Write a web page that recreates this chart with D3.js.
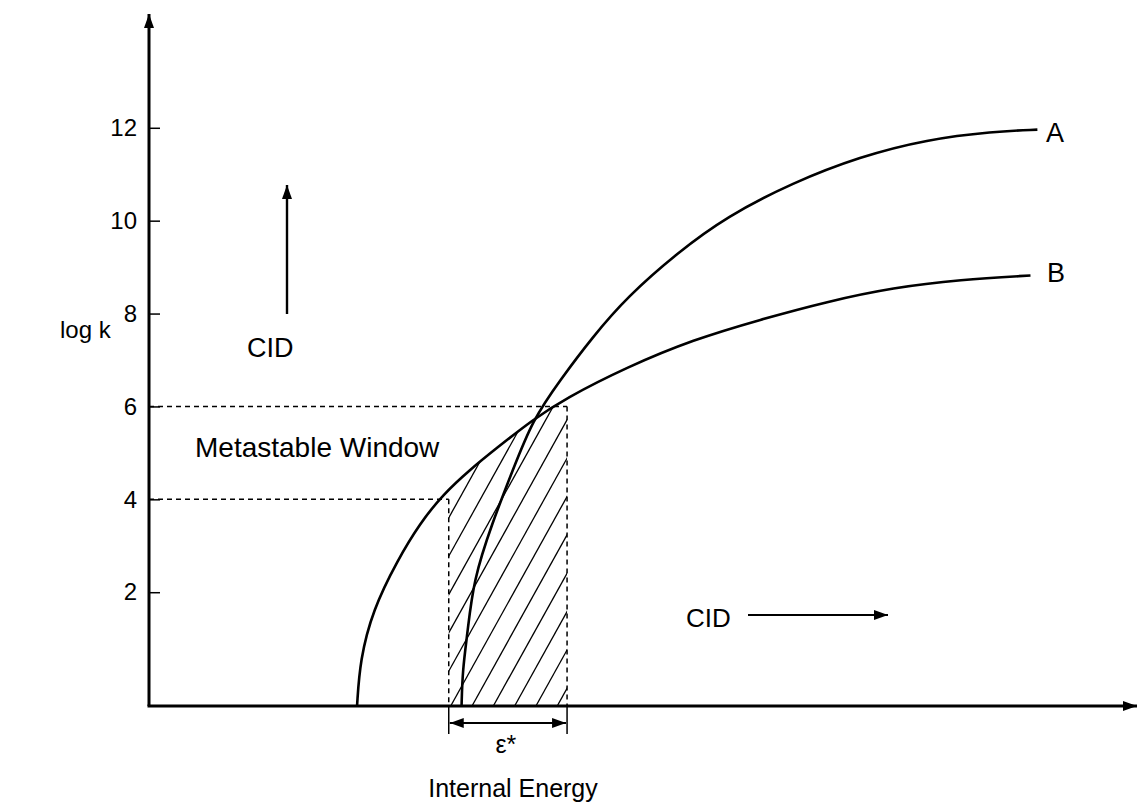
<!DOCTYPE html>
<html>
<head>
<meta charset="utf-8">
<script src="https://cdn.jsdelivr.net/npm/d3@7"></script>
<style>
  body { margin: 0; background: #fff; }
  svg { display: block; font-family: "Liberation Sans", Arial, sans-serif; }
</style>
</head>
<body>
<div id="chart"></div>
<script>
// curve data: [internal energy, log k]
const curveA = [
  [3.17, -0.45], [3.18, 0.32], [3.23, 1.12], [3.29, 2.26], [3.48, 3.49],
  [3.69, 4.63], [3.89, 5.71], [4.17, 6.57], [4.50, 7.50], [4.85, 8.36],
  [5.36, 9.31], [5.86, 10.09], [6.53, 10.82], [7.21, 11.38], [7.89, 11.75],
  [8.56, 11.92], [9.01, 11.96]
];
const curveB = [
  [2.11, -0.45], [2.14, 0.54], [2.27, 1.62], [2.52, 2.69], [2.75, 3.49],
  [2.98, 4.10], [3.25, 4.63], [3.53, 5.11], [3.89, 5.71], [4.22, 6.17],
  [4.85, 6.85], [5.52, 7.44], [6.20, 7.87], [6.88, 8.26], [7.55, 8.56],
  [8.23, 8.73], [8.94, 8.82]
];
const yTicks = [2, 4, 6, 8, 10, 12];
const windowLevels = [4, 6];      // log k bounds of the metastable window
const windowEnergy = [3.04, 4.24]; // energy bounds (epsilon*)
const baseLevel = -0.45;           // where the energy axis sits

const w = 1138, h = 805;

const x = d3.scaleLinear().domain([0, 10]).range([149, 1135]);
const y = d3.scaleLinear().domain([baseLevel, 14.45]).range([706, 14]);

const svg = d3.select("#chart").append("svg")
  .attr("width", w)
  .attr("height", h);

const defs = svg.append("defs");
defs.append("marker")
  .attr("id", "head")
  .attr("markerUnits", "userSpaceOnUse")
  .attr("viewBox", "0 0 14 10")
  .attr("refX", 14).attr("refY", 5)
  .attr("markerWidth", 14).attr("markerHeight", 10)
  .attr("orient", "auto-start-reverse")
  .append("path")
  .attr("d", "M0,0L14,5L0,10Z")
  .attr("fill", "#000");

const line = d3.line()
  .x(d => x(d[0]))
  .y(d => y(d[1]))
  .curve(d3.curveBasis);

// hatched region under curve B inside the window
const area = d3.area()
  .x(d => x(d[0]))
  .y0(y(baseLevel))
  .y1(d => y(d[1]))
  .curve(d3.curveBasis);

defs.append("clipPath").attr("id", "clipWin")
  .append("rect")
  .attr("x", x(windowEnergy[0]))
  .attr("y", 0)
  .attr("width", x(windowEnergy[1]) - x(windowEnergy[0]))
  .attr("height", y(baseLevel));
defs.append("clipPath").attr("id", "clipB")
  .append("path")
  .attr("d", area(curveB));

const hatch = svg.append("g").attr("clip-path", "url(#clipWin)")
  .append("g").attr("clip-path", "url(#clipB)");
const slope = 1.8, step = 21.3, x0 = 472;
for (let k = -14; k <= 8; k++) {
  const bx = x0 + k * step;
  hatch.append("line")
    .attr("x1", bx).attr("y1", y(baseLevel))
    .attr("x2", bx + 400 / slope).attr("y2", y(baseLevel) - 400)
    .attr("stroke", "#000").attr("stroke-width", 1.3);
}

// dashed guides
const dash = "5,4";
svg.append("line")
  .attr("x1", x(0)).attr("y1", y(windowLevels[1]))
  .attr("x2", x(windowEnergy[1])).attr("y2", y(windowLevels[1]))
  .attr("stroke", "#000").attr("stroke-width", 1.5).attr("stroke-dasharray", dash);
svg.append("line")
  .attr("x1", x(0)).attr("y1", y(windowLevels[0]))
  .attr("x2", x(windowEnergy[0])).attr("y2", y(windowLevels[0]))
  .attr("stroke", "#000").attr("stroke-width", 1.5).attr("stroke-dasharray", dash);
svg.append("line")
  .attr("x1", x(windowEnergy[0])).attr("y1", y(windowLevels[0]))
  .attr("x2", x(windowEnergy[0])).attr("y2", y(baseLevel))
  .attr("stroke", "#000").attr("stroke-width", 1.5).attr("stroke-dasharray", dash);
svg.append("line")
  .attr("x1", x(windowEnergy[1])).attr("y1", y(windowLevels[1]))
  .attr("x2", x(windowEnergy[1])).attr("y2", y(baseLevel))
  .attr("stroke", "#000").attr("stroke-width", 1.5).attr("stroke-dasharray", dash);

// curves
svg.append("path").attr("d", line(curveA))
  .attr("fill", "none").attr("stroke", "#000").attr("stroke-width", 2.6);
svg.append("path").attr("d", line(curveB))
  .attr("fill", "none").attr("stroke", "#000").attr("stroke-width", 2.6);

// axes
svg.append("line")
  .attr("x1", x(0)).attr("y1", y(baseLevel))
  .attr("x2", x(0)).attr("y2", y(14.45))
  .attr("stroke", "#000").attr("stroke-width", 3)
  .attr("marker-end", "url(#head)");
svg.append("line")
  .attr("x1", x(0) - 1.5).attr("y1", y(baseLevel))
  .attr("x2", x(10) + 2).attr("y2", y(baseLevel))
  .attr("stroke", "#000").attr("stroke-width", 3)
  .attr("marker-end", "url(#head)");

const yAxis = d3.axisLeft(y)
  .tickValues(yTicks)
  .tickSizeInner(-11)
  .tickSizeOuter(0)
  .tickPadding(12);
const gy = svg.append("g")
  .attr("transform", "translate(" + x(0) + ",0)")
  .call(yAxis);
gy.select(".domain").remove();
gy.selectAll(".tick line").attr("stroke-width", 1.5);
gy.selectAll(".tick text")
  .attr("font-size", 24)
  .attr("font-family", "Liberation Sans, Arial, sans-serif")
  .attr("fill", "#000");

// epsilon* span
[windowEnergy[0], windowEnergy[1]].forEach(e => {
  svg.append("line")
    .attr("x1", x(e)).attr("y1", y(baseLevel))
    .attr("x2", x(e)).attr("y2", y(baseLevel) + 28)
    .attr("stroke", "#000").attr("stroke-width", 1.5);
});
svg.append("line")
  .attr("x1", x(windowEnergy[0]) + 1).attr("y1", y(baseLevel) + 17)
  .attr("x2", x(windowEnergy[1]) - 1).attr("y2", y(baseLevel) + 17)
  .attr("stroke", "#000").attr("stroke-width", 2)
  .attr("marker-start", "url(#head)")
  .attr("marker-end", "url(#head)");
svg.append("text")
  .attr("x", (x(windowEnergy[0]) + x(windowEnergy[1])) / 2 - 2)
  .attr("y", 753)
  .attr("text-anchor", "middle")
  .attr("font-size", 25)
  .text("ε*");

// CID arrows
svg.append("line")
  .attr("x1", 287).attr("y1", 314).attr("x2", 287).attr("y2", 185)
  .attr("stroke", "#000").attr("stroke-width", 2.4)
  .attr("marker-end", "url(#head)");
svg.append("line")
  .attr("x1", 748).attr("y1", 615).attr("x2", 888).attr("y2", 615)
  .attr("stroke", "#000").attr("stroke-width", 2)
  .attr("marker-end", "url(#head)");

// labels
const labels = [
  { t: "log k", x: 60, y: 338, s: 24, a: "start" },
  { t: "CID", x: 247, y: 357, s: 27, a: "start" },
  { t: "Metastable Window", x: 195, y: 457, s: 28, a: "start" },
  { t: "CID", x: 686, y: 627, s: 26, a: "start" },
  { t: "A", x: 1046, y: 142, s: 27, a: "start" },
  { t: "B", x: 1047, y: 282, s: 27, a: "start" },
  { t: "Internal Energy", x: 513, y: 797, s: 25, a: "middle" }
];
svg.selectAll("text.lbl")
  .data(labels)
  .enter()
  .append("text")
  .attr("class", "lbl")
  .attr("x", d => d.x)
  .attr("y", d => d.y)
  .attr("font-size", d => d.s)
  .attr("text-anchor", d => d.a)
  .text(d => d.t);
</script>
</body>
</html>
